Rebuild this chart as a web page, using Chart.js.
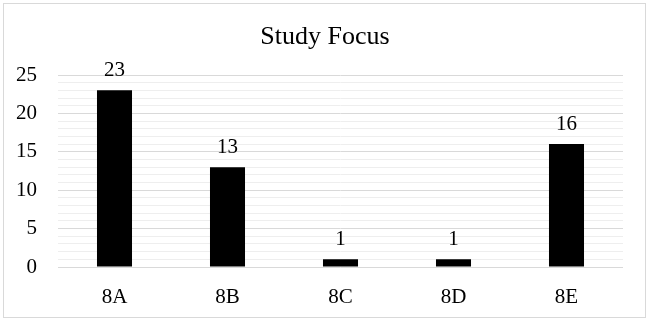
<!DOCTYPE html>
<html><head><meta charset="utf-8">
<script src="https://cdn.jsdelivr.net/npm/chart.js@4"></script>
<style>html,body{margin:0;padding:0;background:#fff}#wrap{width:650px;height:322px;position:relative}</style>
</head><body><div id="wrap"><canvas id="c"></canvas></div>
<script>
const categories = ['8A','8B','8C','8D','8E'];
const values = [23,13,1,1,16];
const yMax = 25;
const titleText = 'Study Focus';
const FONT = "'Liberation Serif','Times New Roman',serif";

const borderPlugin = {
  id:'borderBox',
  afterDraw(chart){
    const c=chart.ctx; c.save(); c.strokeStyle='#d9d9d9'; c.lineWidth=1;
    c.strokeRect(3.5,3.5,642,314);
    c.font='26px '+FONT; c.fillStyle='#000'; c.textAlign='center'; c.textBaseline='middle';
    c.fillText(titleText, chart.width/2, 37);
    c.restore();
  }
};
const labelPlugin = {
  id:'valLabels',
  afterDatasetsDraw(chart){
    const c=chart.ctx; const meta=chart.getDatasetMeta(0);
    c.save(); c.font='21px '+FONT; c.fillStyle='#000'; c.textAlign='center'; c.textBaseline='alphabetic';
    meta.data.forEach((b,i)=>{ c.fillText(String(values[i]), b.x, b.y-14); });
    c.restore();
  }
};
new Chart(document.getElementById('c'),{
  type:'bar',
  data:{labels:categories,datasets:[{data:values,backgroundColor:'#000',borderWidth:0,categoryPercentage:1,barPercentage:0.31}]},
  options:{
    responsive:true,maintainAspectRatio:false,animation:false,
    layout:{padding:{left:0,right:27,top:75,bottom:0}},
    plugins:{legend:{display:false},tooltip:{enabled:false},title:{display:false}},
    scales:{
      x:{grid:{display:false},border:{display:false},ticks:{color:'#000',font:{family:FONT,size:21},padding:10},
        afterFit:(s)=>{s.height=55;}},
      y:{min:0,max:yMax,border:{display:false},
        grid:{color:(ctx)=>ctx.tick && ctx.tick.value%5===0?'#d9d9d9':'#eeeeee',drawTicks:false},
        ticks:{stepSize:1,autoSkip:false,color:'#000',font:{family:FONT,size:21},padding:21,
          callback:(v)=>v%5===0?String(v):''},
        afterFit:(s)=>{s.width=58;}}
    }
  },
  plugins:[borderPlugin,labelPlugin]
});
</script></body></html>
